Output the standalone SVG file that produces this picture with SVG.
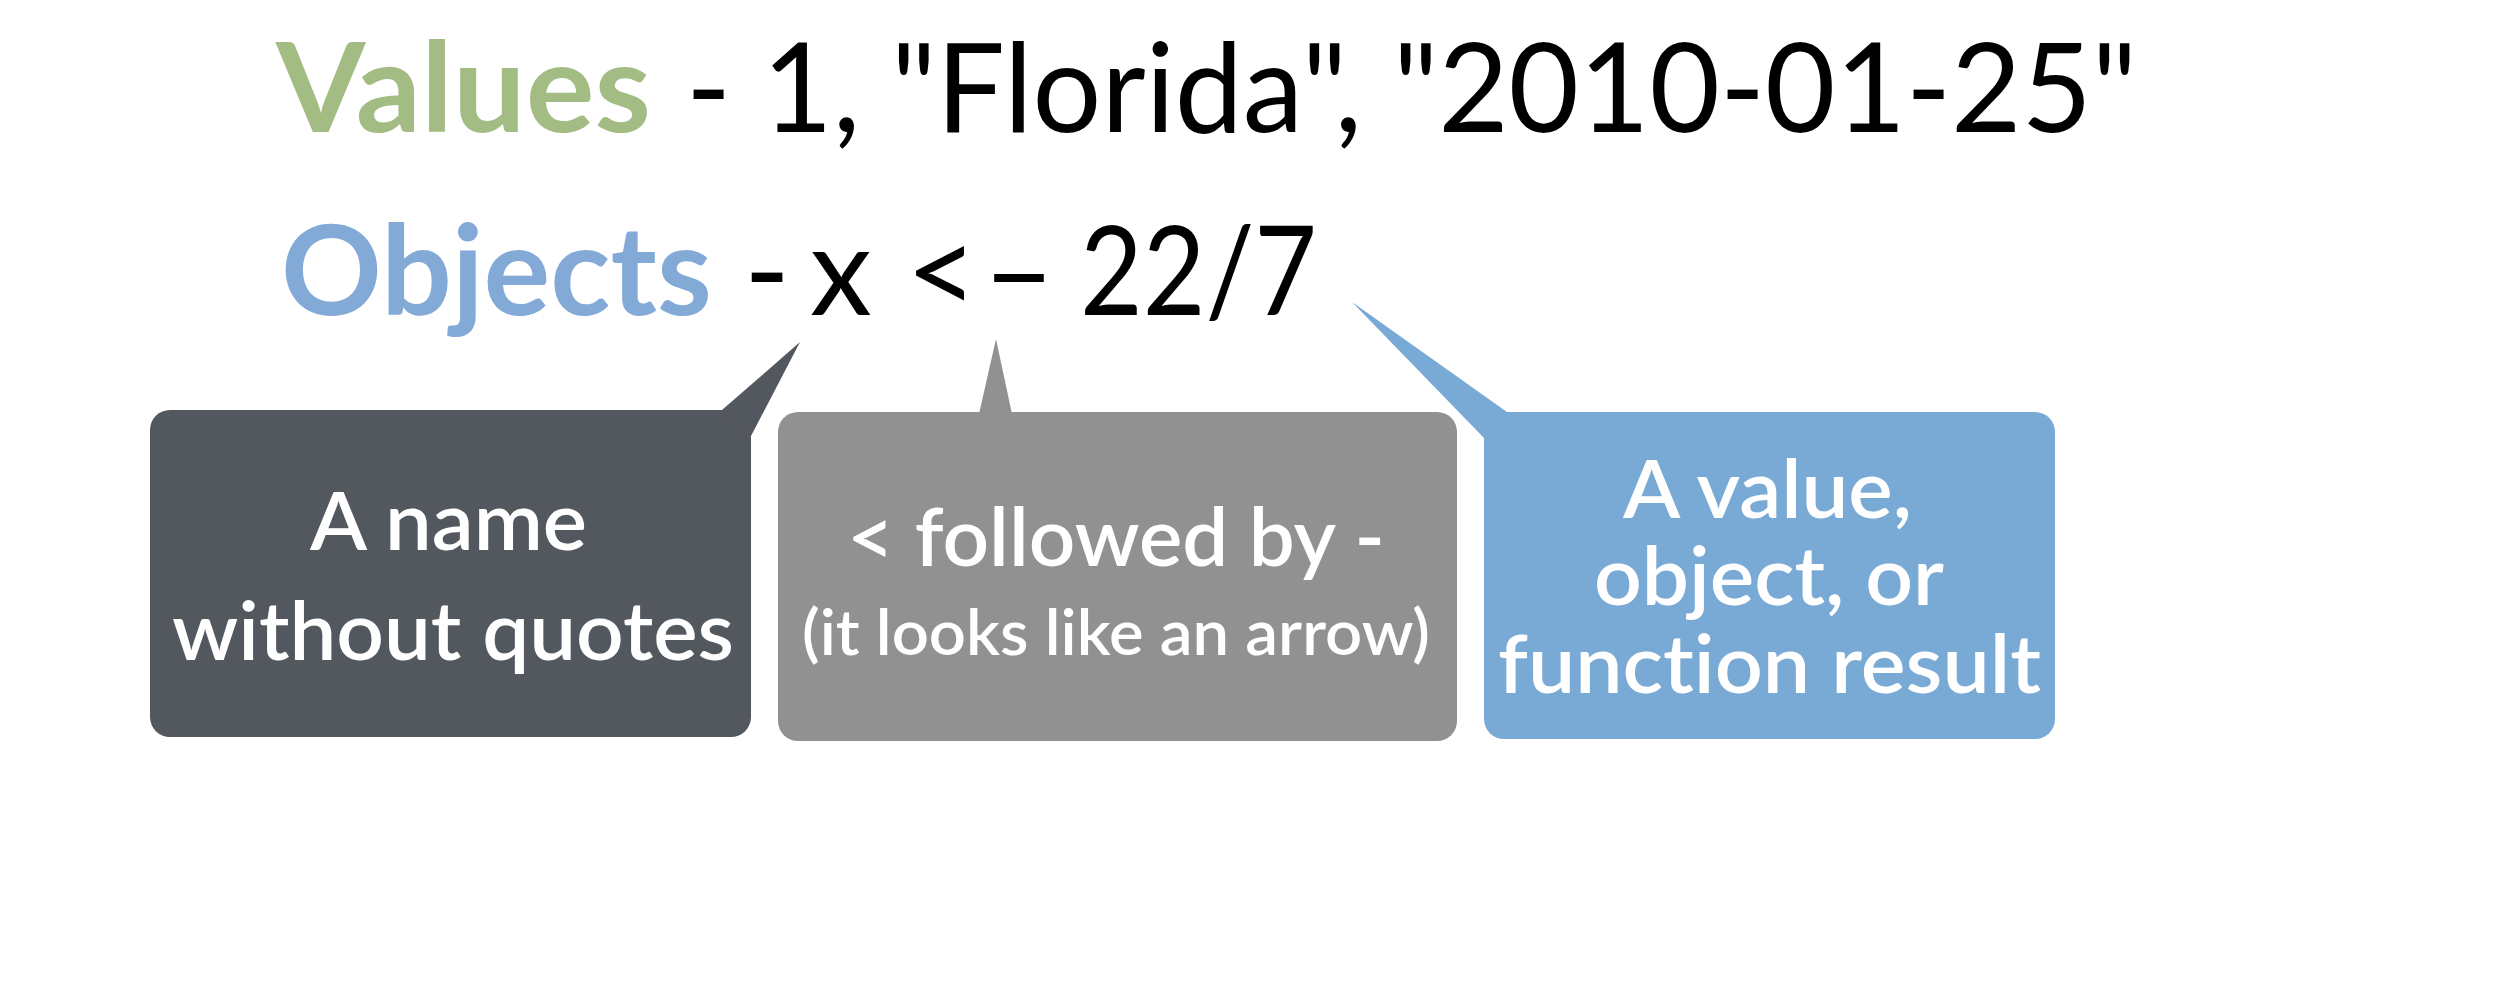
<svg xmlns="http://www.w3.org/2000/svg" width="2520" height="988" viewBox="0 0 2520 988">
<style>
  text { font-family: Lato, "Noto Sans", "Liberation Sans", sans-serif; font-variant-ligatures: none; }
  .big { font-size: 124px; fill: #000; }
  .bold { font-weight: 700; }
  .lbl { font-size: 80px; font-weight: 600; fill: #fff; }
  .sm { font-size: 64px; font-weight: 600; fill: #fff; }
  .dark { fill: #53575E; }
  .gray { fill: #919191; }
  .blue { fill: #79AAD5; }
</style>
<rect width="2520" height="988" fill="#fff"/>
<g id="values-line">
  <text x="276" y="132" class="big bold" style="fill:#A3BC84" textLength="375" lengthAdjust="spacingAndGlyphs">Values</text>
  <text x="686" y="132" class="big" textLength="1451" lengthAdjust="spacingAndGlyphs">- 1, "Florida", "2010-01-25"</text>
</g>
<g id="objects-line">
  <text x="281" y="315" class="big bold" style="fill:#83AAD7" textLength="431" lengthAdjust="spacingAndGlyphs">Objects</text>
  <text y="315" class="big"><tspan x="744">-</tspan> <tspan x="810">x</tspan> <tspan x="906">&lt;</tspan> <tspan x="983">–</tspan> <tspan x="1080" textLength="237" lengthAdjust="spacingAndGlyphs">22/7</tspan></text>
</g>
<g id="node-name">
  <rect class="dark" x="150" y="410" width="601" height="327" rx="20"/>
  <text class="lbl" x="310" y="550" textLength="277" lengthAdjust="spacingAndGlyphs">A name</text>
  <text class="lbl" x="172" y="660" textLength="562" lengthAdjust="spacingAndGlyphs">without quotes</text>
</g>
<g id="node-arrow">
  <rect class="gray" x="778" y="412" width="679" height="329" rx="20"/>
  <text class="lbl" x="847" y="566" textLength="538" lengthAdjust="spacingAndGlyphs">&lt; followed by -</text>
  <text class="sm" x="802" y="655" textLength="628" lengthAdjust="spacingAndGlyphs">(it looks like an arrow)</text>
</g>
<g id="node-value">
  <rect class="blue" x="1484" y="412" width="571" height="327" rx="20"/>
  <text class="lbl" x="1623" y="518" textLength="289" lengthAdjust="spacingAndGlyphs">A value,</text>
  <text class="lbl" x="1594" y="605" textLength="350" lengthAdjust="spacingAndGlyphs">object, or</text>
  <text class="lbl" x="1498" y="693" textLength="543" lengthAdjust="spacingAndGlyphs">function result</text>
</g>
<g id="connectors">
  <polygon class="dark" points="722,410 800,342 751,436"/>
  <polygon class="gray" points="979,414 996,339 1012,414"/>
  <polygon class="blue" points="1507,412 1352,302 1484,438"/>
</g>
</svg>
